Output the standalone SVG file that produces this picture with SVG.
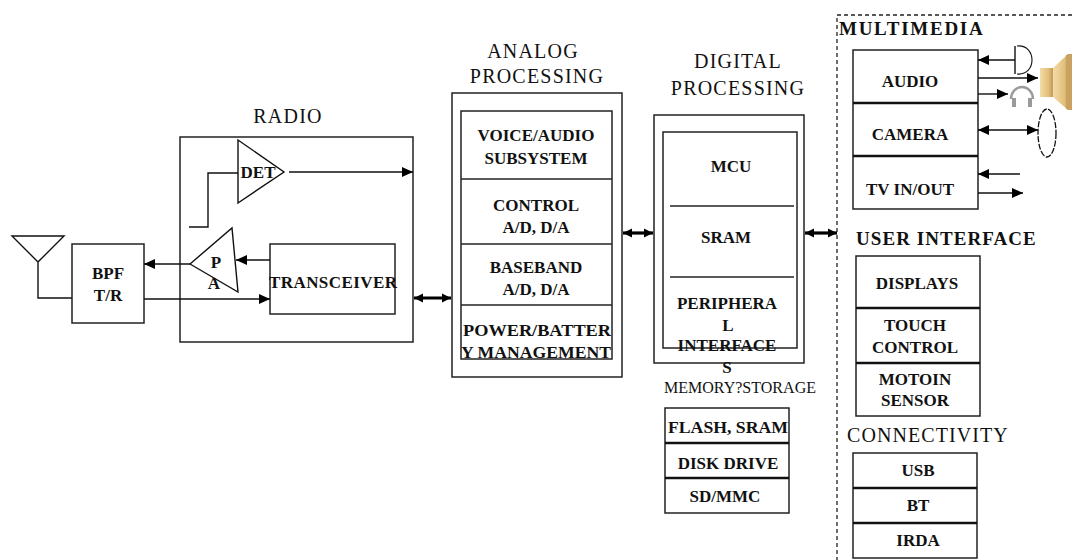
<svg xmlns="http://www.w3.org/2000/svg" width="1072" height="560" viewBox="0 0 1072 560">
<style>
  .bx{fill:none;stroke:#222;stroke-width:1.5}
  .ln{fill:none;stroke:#111;stroke-width:1.4}
  .thk{fill:none;stroke:#111;stroke-width:2.6}
  .bus{fill:none;stroke:#000;stroke-width:3.2}
  text{font-family:'Liberation Serif','DejaVu Serif','Noto Serif',serif}
  .t{font-weight:bold;font-size:17px;fill:#111;text-anchor:middle}
  .h{font-size:20px;fill:#111;text-anchor:middle;letter-spacing:1.2px}
  .hb{font-weight:bold;font-size:19px;fill:#111;letter-spacing:0.3px}
</style>
<defs>
  <marker id="ah" markerUnits="userSpaceOnUse" markerWidth="12" markerHeight="10" refX="11" refY="5" orient="auto-start-reverse">
    <path d="M0,0 L11,5 L0,10 Z" fill="#000"/>
  </marker>
  <marker id="bh" markerUnits="userSpaceOnUse" markerWidth="10" markerHeight="10" refX="9" refY="5" orient="auto-start-reverse">
    <path d="M0,0.5 L9,5 L0,9.5 Z" fill="#000"/>
  </marker>
  <linearGradient id="spk" x1="0" y1="0" x2="1" y2="0">
    <stop offset="0" stop-color="#f3dca6"/>
    <stop offset="0.6" stop-color="#e2bf7c"/>
    <stop offset="1" stop-color="#b88e4e"/>
  </linearGradient>
</defs>

<!-- Radio -->
<g id="radio">
  <text class="h" x="288" y="123">RADIO</text>
  <rect class="bx" x="180" y="137" width="233" height="205"/>
</g>
<g id="antenna">
  <path class="ln" d="M12,236 L64,236 L38,262 Z M38,262 L38,298 L72,298"/>
</g>
<g id="bpf">
  <rect class="bx" x="72" y="244" width="72" height="79"/>
  <text class="t" x="108" y="279">BPF</text>
  <text class="t" x="108" y="301">T/R</text>
</g>
<g id="det">
  <path class="ln" d="M238,140 L284,172 L238,203 Z"/>
  <text class="t" x="258" y="178">DET</text>
</g>
<g id="pa">
  <path class="ln" d="M190,264 L232,228 L238,292 Z"/>
  <text class="t" x="216" y="268">P</text>
  <text class="t" x="214" y="289">A</text>
</g>
<g id="transceiver">
  <rect class="bx" x="270" y="244" width="125" height="70"/>
  <text class="t" x="333" y="288" textLength="128" lengthAdjust="spacing">TRANSCEIVER</text>
</g>

<!-- Analog -->
<g id="analog">
  <text class="h" x="533" y="58">ANALOG</text>
  <text class="h" x="537" y="83">PROCESSING</text>
  <rect class="bx" x="452" y="93" width="170" height="284"/>
  <rect class="bx" x="461" y="111" width="151" height="248"/>
  <line class="bx" x1="461" y1="179" x2="612" y2="179"/>
  <line class="bx" x1="461" y1="244" x2="612" y2="244"/>
  <line class="bx" x1="461" y1="305" x2="612" y2="305"/>
  <text class="t" x="536" y="141">VOICE/AUDIO</text>
  <text class="t" x="536" y="164">SUBSYSTEM</text>
  <text class="t" x="536" y="211">CONTROL</text>
  <text class="t" x="536" y="233">A/D, D/A</text>
  <text class="t" x="536" y="273">BASEBAND</text>
  <text class="t" x="536" y="295">A/D, D/A</text>
  <text class="t" x="537" y="336" textLength="148" lengthAdjust="spacingAndGlyphs">POWER/BATTER</text>
  <text class="t" x="536" y="358" textLength="150" lengthAdjust="spacingAndGlyphs">Y MANAGEMENT</text>
</g>

<!-- Digital -->
<g id="digital">
  <text class="h" x="738" y="68">DIGITAL</text>
  <text class="h" x="738" y="95">PROCESSING</text>
  <rect class="bx" x="654" y="115" width="150" height="248"/>
  <rect class="bx" x="663" y="132" width="134" height="216"/>
  <line class="bx" x1="670" y1="206" x2="794" y2="206"/>
  <line class="bx" x1="670" y1="277" x2="794" y2="277"/>
  <text class="t" x="731" y="172">MCU</text>
  <text class="t" x="726" y="243">SRAM</text>
  <text class="t" x="727" y="309">PERIPHERA</text>
  <text class="t" x="728" y="331">L</text>
  <text class="t" x="727" y="351">INTERFACE</text>
  <text class="t" x="727" y="373">S</text>
</g>

<!-- Memory -->
<g id="memory">
  <text class="t" x="740" y="393" style="font-weight:normal" textLength="152" lengthAdjust="spacingAndGlyphs">MEMORY?STORAGE</text>
  <rect class="bx" x="665" y="408" width="124" height="105"/>
  <line class="thk" x1="665" y1="443" x2="789" y2="443"/>
  <line class="thk" x1="665" y1="478" x2="789" y2="478"/>
  <text class="t" x="728" y="433" textLength="120" lengthAdjust="spacingAndGlyphs">FLASH, SRAM</text>
  <text class="t" x="728" y="469">DISK DRIVE</text>
  <text class="t" x="725" y="502">SD/MMC</text>
</g>

<!-- Multimedia -->
<g id="multimedia">
  <path d="M1072,15 L837,15 L837,560" fill="none" stroke="#222" stroke-width="1.3" stroke-dasharray="4 3"/>
  <text class="hb" x="839" y="35" textLength="144" lengthAdjust="spacing">MULTIMEDIA</text>
  <rect class="bx" x="853" y="50" width="125" height="159"/>
  <line class="thk" x1="853" y1="103" x2="978" y2="103"/>
  <line class="thk" x1="853" y1="156" x2="978" y2="156"/>
  <text class="t" x="910" y="87">AUDIO</text>
  <text class="t" x="910" y="140">CAMERA</text>
  <text class="t" x="910" y="195">TV IN/OUT</text>
</g>
<g id="mic">
  <line class="ln" x1="1015" y1="46" x2="1015" y2="74"/>
  <path fill="none" stroke="#111" stroke-width="1.1" d="M1017,46 C1037,44 1037,76 1017,74"/>
</g>
<g id="speaker">
  <path d="M1040,68 L1054,68 L1054,97 L1040,97 Z" fill="url(#spk)"/>
  <path d="M1053,68 L1068,54 L1072,54 L1072,110 L1068,110 L1053,97 Z" fill="url(#spk)"/>
  <path d="M1066,55 L1072,54 L1072,110 L1066,109 Z" fill="#c9a160"/>
</g>
<g id="headphones">
  <path d="M1011,99 A11,12 0 0 1 1033,99" fill="none" stroke="#9a9a9a" stroke-width="2.5"/>
  <rect x="1012" y="98" width="4" height="9" fill="#9a9a9a"/>
  <rect x="1028" y="98" width="4" height="9" fill="#9a9a9a"/>
</g>
<g id="cameraLens">
  <ellipse cx="1047" cy="133" rx="9" ry="24" fill="none" stroke="#111" stroke-width="1.3" stroke-dasharray="6 1.5"/>
</g>

<!-- User interface -->
<g id="userInterface">
  <text class="hb" x="856" y="245" textLength="180" lengthAdjust="spacing">USER INTERFACE</text>
  <rect class="bx" x="856" y="256" width="124" height="160"/>
  <line class="thk" x1="856" y1="308" x2="980" y2="308"/>
  <line class="thk" x1="856" y1="363" x2="980" y2="363"/>
  <text class="t" x="917" y="289">DISPLAYS</text>
  <text class="t" x="915" y="331">TOUCH</text>
  <text class="t" x="915" y="353">CONTROL</text>
  <text class="t" x="915" y="385">MOTOIN</text>
  <text class="t" x="915" y="406">SENSOR</text>
</g>

<!-- Connectivity -->
<g id="connectivity">
  <text class="h" x="928" y="442" textLength="162" lengthAdjust="spacing">CONNECTIVITY</text>
  <rect class="bx" x="853" y="453" width="124" height="105"/>
  <line class="thk" x1="853" y1="488" x2="977" y2="488"/>
  <line class="thk" x1="853" y1="523" x2="977" y2="523"/>
  <text class="t" x="918" y="476">USB</text>
  <text class="t" x="918" y="511">BT</text>
  <text class="t" x="918" y="546">IRDA</text>
</g>

<!-- Connectors -->
<g id="connectors">
  <path class="ln" d="M238,173 L208,173 L208,227 L189,227"/>
  <line class="ln" x1="289" y1="172" x2="413" y2="172" marker-end="url(#ah)"/>
  <line class="ln" x1="190" y1="264" x2="144" y2="264" marker-end="url(#ah)"/>
  <line class="ln" x1="270" y1="260" x2="236" y2="260" marker-end="url(#ah)"/>
  <line class="ln" x1="144" y1="299" x2="270" y2="299" marker-end="url(#ah)"/>
  <line class="bus" x1="414" y1="298" x2="451" y2="298" marker-start="url(#bh)" marker-end="url(#bh)"/>
  <line class="bus" x1="623" y1="233" x2="653" y2="233" marker-start="url(#bh)" marker-end="url(#bh)"/>
  <line class="bus" x1="805" y1="233" x2="837" y2="233" marker-start="url(#bh)" marker-end="url(#bh)"/>
  <line class="ln" x1="1015" y1="60" x2="978" y2="60" marker-end="url(#ah)"/>
  <line class="ln" x1="978" y1="78" x2="1038" y2="78" marker-end="url(#ah)"/>
  <line class="ln" x1="978" y1="94" x2="1008" y2="94" marker-end="url(#ah)"/>
  <line class="ln" x1="978" y1="130" x2="1038" y2="130" marker-start="url(#ah)" marker-end="url(#ah)"/>
  <line class="ln" x1="1020" y1="174" x2="978" y2="174" marker-end="url(#ah)"/>
  <line class="ln" x1="978" y1="193" x2="1023" y2="193" marker-end="url(#ah)"/>
</g>
</svg>
